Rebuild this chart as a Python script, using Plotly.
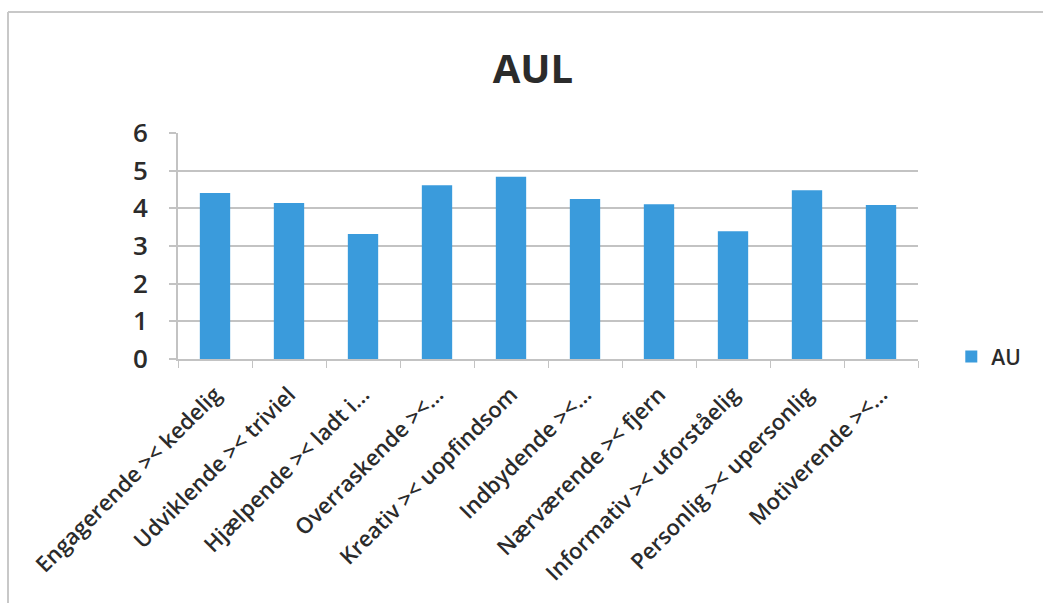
import plotly.graph_objects as go

categories = [
    "Engagerende >< kedelig",
    "Udviklende >< triviel",
    "Hjælpende >< ladt i...",
    "Overraskende ><...",
    "Kreativ >< uopfindsom",
    "Indbydende ><...",
    "Nærværende >< fjern",
    "Informativ >< uforståelig",
    "Personlig >< upersonlig",
    "Motiverende ><...",
]
values_au = [4.41, 4.14, 3.32, 4.61, 4.84, 4.25, 4.11, 3.39, 4.48, 4.09]
series_name = "AU"
title_text = "AUL"
y_ticks = [0, 1, 2, 3, 4, 5, 6]

BAR = "#3a9bdc"
GRID = "#c3c3c3"
TXT = "#2b2b2b"
FONT = "Open Sans"

fig = go.Figure()
fig.add_trace(go.Bar(
    x=categories, y=values_au, name=series_name,
    marker=dict(color=BAR, line=dict(width=0)),
))

fig.update_layout(
    width=1043, height=603,
    paper_bgcolor="white", plot_bgcolor="white",
    margin=dict(l=178, r=125, t=133, b=244, autoexpand=False),
    bargap=0.59,
    showlegend=True,
    title=dict(text=f"<b>{title_text}</b>", x=0.511, xanchor="center",
               y=1 - 69 / 603, yanchor="middle",
               font=dict(family=FONT, size=40, color=TXT)),
    legend=dict(x=1.045, xanchor="left", y=0.01, yanchor="middle",
                font=dict(family=FONT, size=21, color=TXT, weight=600),
                itemwidth=30, bgcolor="rgba(0,0,0,0)"),
    font=dict(family=FONT, color=TXT),
)

fig.update_xaxes(
    tickangle=-45,
    tickfont=dict(family=FONT, size=22, color=TXT, weight=600),
    showgrid=False,
    showline=True, linecolor=GRID, linewidth=2,
    ticks="outside", ticklen=7, tickcolor=GRID, tickwidth=1,
    tickson="boundaries",
    ticklabelstandoff=12,
)
fig.update_yaxes(
    range=[0, 6], tickvals=y_ticks,
    tickfont=dict(family=FONT, size=26, color=TXT, weight=600),
    showgrid=True, gridcolor=GRID, gridwidth=2,
    showline=True, linecolor=GRID, linewidth=2,
    ticks="outside", ticklen=7, tickcolor=GRID, tickwidth=2,
    ticklabelstandoff=16,
    zeroline=False,
)

# chart frame (top and left edges visible in reference)
fig.add_shape(type="line", xref="paper", yref="paper",
              x0=-170 / 740, x1=(1043 - 178) / 740,
              y0=1 + (133 - 12) / 226, y1=1 + (133 - 12) / 226,
              line=dict(color="#c8c8c8", width=2))
fig.add_shape(type="line", xref="paper", yref="paper",
              x0=-170 / 740, x1=-170 / 740,
              y0=1 + (133 - 12) / 226, y1=-(603 - 359) / 226,
              line=dict(color="#c8c8c8", width=2))

fig.write_html(
    "out.html",
    config={"displayModeBar": False},
    post_script="document.body.style.margin='0';document.body.style.overflow='hidden';",
)
